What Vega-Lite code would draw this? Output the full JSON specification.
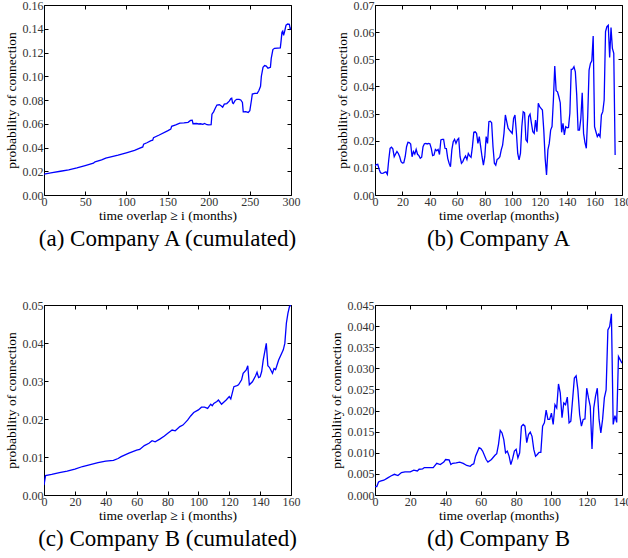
{
  "$schema": "https://vega.github.io/schema/vega-lite/v6.json",
  "background": "white",
  "padding": {"left": 3, "top": -2, "right": 0, "bottom": 0},
  "config": {
    "font": "Liberation Serif",
    "view": {"stroke": "black", "strokeWidth": 1},
    "axis": {
      "domain": false,
      "grid": false,
      "tickColor": "black",
      "tickSize": -4,
      "labelPadding": 5,
      "labelFont": "Liberation Serif",
      "labelFontSize": 12,
      "labelColor": "#333333",
      "titleFont": "Liberation Serif",
      "titleFontSize": 13.5,
      "titleFontWeight": "normal",
      "titleColor": "black",
      "labelFlush": false,
      "labelOverlap": false
    },
    "axisX": {"titlePadding": 1},
    "axisY": {"titlePadding": 4},
    "title": {"font": "Liberation Serif", "fontSize": 23, "fontWeight": "normal", "color": "black", "orient": "bottom", "offset": 6}
  },
  "datasets": {
    "a": [
      {"x":0,"y":0.0175},{"x":10,"y":0.0188},{"x":20,"y":0.0200},{"x":30,"y":0.0212},{"x":40,"y":0.0228},{"x":50,"y":0.0248},{"x":60,"y":0.0268},{"x":62,"y":0.0280},{"x":70,"y":0.0295},{"x":75,"y":0.0310},{"x":80,"y":0.0318},{"x":90,"y":0.0335},{"x":100,"y":0.0355},{"x":110,"y":0.0375},{"x":115,"y":0.0390},{"x":120,"y":0.0405},{"x":121,"y":0.0428},{"x":125,"y":0.0440},{"x":130,"y":0.0458},{"x":132,"y":0.0462},{"x":133,"y":0.0482},{"x":140,"y":0.0505},{"x":150,"y":0.0540},{"x":154,"y":0.0555},{"x":155,"y":0.0578},{"x":160,"y":0.0590},{"x":165,"y":0.0605},{"x":170,"y":0.0608},{"x":175,"y":0.0612},{"x":178,"y":0.0628},{"x":180,"y":0.0630},{"x":181,"y":0.0600},{"x":185,"y":0.0602},{"x":188,"y":0.0598},{"x":190,"y":0.0600},{"x":193,"y":0.0595},{"x":195,"y":0.0603},{"x":198,"y":0.0592},{"x":200,"y":0.0590},{"x":203,"y":0.0592},{"x":204,"y":0.0680},{"x":206,"y":0.0700},{"x":208,"y":0.0730},{"x":210,"y":0.0758},{"x":213,"y":0.0760},{"x":215,"y":0.0752},{"x":217,"y":0.0740},{"x":219,"y":0.0765},{"x":222,"y":0.0770},{"x":225,"y":0.0790},{"x":227,"y":0.0812},{"x":228,"y":0.0815},{"x":229,"y":0.0775},{"x":230,"y":0.0770},{"x":232,"y":0.0795},{"x":234,"y":0.0806},{"x":237,"y":0.0805},{"x":239,"y":0.0800},{"x":241,"y":0.0780},{"x":242,"y":0.0700},{"x":245,"y":0.0702},{"x":248,"y":0.0695},{"x":250,"y":0.0710},{"x":252,"y":0.0800},{"x":253,"y":0.0850},{"x":256,"y":0.0855},{"x":259,"y":0.0856},{"x":261,"y":0.0880},{"x":263,"y":0.0915},{"x":264,"y":0.1000},{"x":266,"y":0.1075},{"x":268,"y":0.1090},{"x":270,"y":0.1085},{"x":272,"y":0.1068},{"x":275,"y":0.1075},{"x":276,"y":0.1150},{"x":278,"y":0.1225},{"x":280,"y":0.1235},{"x":287,"y":0.1238},{"x":288,"y":0.1300},{"x":289,"y":0.1370},{"x":290,"y":0.1380},{"x":291,"y":0.1345},{"x":292,"y":0.1370},{"x":293,"y":0.1400},{"x":294,"y":0.1430},{"x":296,"y":0.1440},{"x":298,"y":0.1438},{"x":299,"y":0.1400},{"x":300,"y":0.1410}
    ],
    "b": [
      {"x":0,"y":0.0108},{"x":1,"y":0.0112},{"x":2,"y":0.0113},{"x":3,"y":0.0095},{"x":4,"y":0.0082},{"x":5,"y":0.0080},{"x":6,"y":0.0081},{"x":7,"y":0.0083},{"x":8,"y":0.0085},{"x":9,"y":0.0076},{"x":10,"y":0.0129},{"x":11,"y":0.0172},{"x":12,"y":0.0176},{"x":13,"y":0.0170},{"x":14,"y":0.0141},{"x":15,"y":0.0151},{"x":16,"y":0.0160},{"x":17,"y":0.0153},{"x":18,"y":0.0141},{"x":19,"y":0.0123},{"x":20,"y":0.0118},{"x":21,"y":0.0119},{"x":22,"y":0.0141},{"x":23,"y":0.0178},{"x":24,"y":0.0194},{"x":25,"y":0.0193},{"x":26,"y":0.0188},{"x":27,"y":0.0141},{"x":28,"y":0.0160},{"x":29,"y":0.0151},{"x":30,"y":0.0168},{"x":31,"y":0.0150},{"x":32,"y":0.0145},{"x":33,"y":0.0135},{"x":34,"y":0.0139},{"x":35,"y":0.0178},{"x":36,"y":0.0189},{"x":37,"y":0.0190},{"x":38,"y":0.0188},{"x":39,"y":0.0190},{"x":40,"y":0.0189},{"x":41,"y":0.0172},{"x":42,"y":0.0145},{"x":43,"y":0.0147},{"x":44,"y":0.0168},{"x":45,"y":0.0163},{"x":46,"y":0.0168},{"x":47,"y":0.0149},{"x":48,"y":0.0203},{"x":49,"y":0.0205},{"x":50,"y":0.0205},{"x":51,"y":0.0172},{"x":52,"y":0.0171},{"x":53,"y":0.0135},{"x":54,"y":0.0117},{"x":55,"y":0.0104},{"x":56,"y":0.0166},{"x":57,"y":0.0196},{"x":58,"y":0.0205},{"x":59,"y":0.0190},{"x":60,"y":0.0203},{"x":61,"y":0.0209},{"x":62,"y":0.0141},{"x":63,"y":0.0117},{"x":64,"y":0.0123},{"x":65,"y":0.0135},{"x":66,"y":0.0144},{"x":67,"y":0.0131},{"x":68,"y":0.0153},{"x":69,"y":0.0144},{"x":70,"y":0.0139},{"x":71,"y":0.0178},{"x":72,"y":0.0231},{"x":73,"y":0.0233},{"x":74,"y":0.0227},{"x":75,"y":0.0190},{"x":76,"y":0.0215},{"x":77,"y":0.0178},{"x":78,"y":0.0141},{"x":79,"y":0.0110},{"x":80,"y":0.0141},{"x":81,"y":0.0215},{"x":82,"y":0.0190},{"x":83,"y":0.0270},{"x":84,"y":0.0272},{"x":85,"y":0.0266},{"x":86,"y":0.0178},{"x":87,"y":0.0117},{"x":88,"y":0.0110},{"x":89,"y":0.0131},{"x":90,"y":0.0134},{"x":91,"y":0.0141},{"x":92,"y":0.0166},{"x":93,"y":0.0184},{"x":94,"y":0.0227},{"x":95,"y":0.0295},{"x":96,"y":0.0270},{"x":97,"y":0.0246},{"x":98,"y":0.0239},{"x":99,"y":0.0233},{"x":100,"y":0.0227},{"x":101,"y":0.0282},{"x":102,"y":0.0295},{"x":103,"y":0.0233},{"x":104,"y":0.0153},{"x":105,"y":0.0129},{"x":106,"y":0.0153},{"x":107,"y":0.0252},{"x":108,"y":0.0307},{"x":109,"y":0.0303},{"x":110,"y":0.0203},{"x":111,"y":0.0196},{"x":112,"y":0.0289},{"x":113,"y":0.0298},{"x":114,"y":0.0264},{"x":115,"y":0.0233},{"x":116,"y":0.0227},{"x":117,"y":0.0276},{"x":118,"y":0.0233},{"x":119,"y":0.0338},{"x":120,"y":0.0325},{"x":121,"y":0.0319},{"x":122,"y":0.0313},{"x":123,"y":0.0239},{"x":124,"y":0.0135},{"x":125,"y":0.0074},{"x":126,"y":0.0166},{"x":127,"y":0.0190},{"x":128,"y":0.0239},{"x":129,"y":0.0252},{"x":130,"y":0.0350},{"x":131,"y":0.0475},{"x":132,"y":0.0384},{"x":133,"y":0.0380},{"x":134,"y":0.0362},{"x":135,"y":0.0340},{"x":136,"y":0.0231},{"x":137,"y":0.0264},{"x":138,"y":0.0221},{"x":139,"y":0.0252},{"x":140,"y":0.0248},{"x":141,"y":0.0249},{"x":142,"y":0.0301},{"x":143,"y":0.0463},{"x":144,"y":0.0464},{"x":145,"y":0.0473},{"x":146,"y":0.0454},{"x":147,"y":0.0368},{"x":148,"y":0.0239},{"x":149,"y":0.0239},{"x":150,"y":0.0282},{"x":151,"y":0.0377},{"x":152,"y":0.0227},{"x":153,"y":0.0193},{"x":154,"y":0.0172},{"x":155,"y":0.0289},{"x":156,"y":0.0460},{"x":157,"y":0.0485},{"x":158,"y":0.0494},{"x":159,"y":0.0586},{"x":160,"y":0.0252},{"x":161,"y":0.0233},{"x":162,"y":0.0215},{"x":163,"y":0.0224},{"x":164,"y":0.0215},{"x":165,"y":0.0295},{"x":166,"y":0.0307},{"x":167,"y":0.0350},{"x":168,"y":0.0602},{"x":169,"y":0.0620},{"x":170,"y":0.0625},{"x":171,"y":0.0507},{"x":172,"y":0.0617},{"x":173,"y":0.0540},{"x":174,"y":0.0522},{"x":175,"y":0.0147}
    ],
    "c": [
      {"x":0,"y":0.0026},{"x":1,"y":0.0051},{"x":5,"y":0.0054},{"x":10,"y":0.0059},{"x":15,"y":0.0063},{"x":20,"y":0.0068},{"x":25,"y":0.0075},{"x":30,"y":0.0080},{"x":35,"y":0.0085},{"x":40,"y":0.0089},{"x":45,"y":0.0091},{"x":48,"y":0.0096},{"x":50,"y":0.0101},{"x":55,"y":0.0110},{"x":60,"y":0.0118},{"x":62,"y":0.0120},{"x":65,"y":0.0130},{"x":68,"y":0.0136},{"x":70,"y":0.0143},{"x":72,"y":0.0140},{"x":75,"y":0.0147},{"x":78,"y":0.0155},{"x":80,"y":0.0162},{"x":83,"y":0.0171},{"x":85,"y":0.0169},{"x":88,"y":0.0180},{"x":90,"y":0.0184},{"x":93,"y":0.0197},{"x":95,"y":0.0208},{"x":97,"y":0.0217},{"x":100,"y":0.0224},{"x":102,"y":0.0231},{"x":104,"y":0.0231},{"x":106,"y":0.0228},{"x":108,"y":0.0239},{"x":109,"y":0.0235},{"x":110,"y":0.0241},{"x":112,"y":0.0246},{"x":113,"y":0.0250},{"x":115,"y":0.0239},{"x":118,"y":0.0250},{"x":120,"y":0.0259},{"x":121,"y":0.0253},{"x":123,"y":0.0285},{"x":125,"y":0.0288},{"x":126,"y":0.0290},{"x":128,"y":0.0303},{"x":129,"y":0.0320},{"x":131,"y":0.0329},{"x":132,"y":0.0340},{"x":133,"y":0.0290},{"x":135,"y":0.0298},{"x":137,"y":0.0313},{"x":138,"y":0.0323},{"x":139,"y":0.0309},{"x":140,"y":0.0311},{"x":141,"y":0.0325},{"x":142,"y":0.0355},{"x":144,"y":0.0399},{"x":145,"y":0.0340},{"x":146,"y":0.0336},{"x":148,"y":0.0320},{"x":149,"y":0.0333},{"x":150,"y":0.0330},{"x":152,"y":0.0355},{"x":155,"y":0.0382},{"x":156,"y":0.0399},{"x":157,"y":0.0452},{"x":158,"y":0.0478},{"x":159,"y":0.0496},{"x":160,"y":0.0500}
    ],
    "d": [
      {"x":0,"y":0.0020},{"x":1,"y":0.0020},{"x":2,"y":0.0031},{"x":3,"y":0.0033},{"x":5,"y":0.0035},{"x":7,"y":0.0040},{"x":9,"y":0.0045},{"x":11,"y":0.0049},{"x":13,"y":0.0046},{"x":15,"y":0.0053},{"x":17,"y":0.0055},{"x":20,"y":0.0055},{"x":22,"y":0.0059},{"x":24,"y":0.0057},{"x":25,"y":0.0061},{"x":27,"y":0.0062},{"x":28,"y":0.0065},{"x":30,"y":0.0065},{"x":33,"y":0.0065},{"x":35,"y":0.0075},{"x":37,"y":0.0072},{"x":39,"y":0.0078},{"x":40,"y":0.0084},{"x":42,"y":0.0083},{"x":43,"y":0.0072},{"x":44,"y":0.0075},{"x":46,"y":0.0076},{"x":48,"y":0.0078},{"x":50,"y":0.0075},{"x":52,"y":0.0070},{"x":54,"y":0.0068},{"x":55,"y":0.0072},{"x":56,"y":0.0074},{"x":57,"y":0.0092},{"x":59,"y":0.0112},{"x":60,"y":0.0110},{"x":61,"y":0.0104},{"x":63,"y":0.0084},{"x":64,"y":0.0078},{"x":66,"y":0.0084},{"x":68,"y":0.0094},{"x":69,"y":0.0098},{"x":70,"y":0.0120},{"x":71,"y":0.0153},{"x":72,"y":0.0147},{"x":73,"y":0.0131},{"x":74,"y":0.0100},{"x":75,"y":0.0104},{"x":76,"y":0.0092},{"x":77,"y":0.0072},{"x":78,"y":0.0086},{"x":79,"y":0.0104},{"x":80,"y":0.0108},{"x":81,"y":0.0088},{"x":82,"y":0.0100},{"x":83,"y":0.0163},{"x":84,"y":0.0167},{"x":85,"y":0.0163},{"x":86,"y":0.0124},{"x":87,"y":0.0143},{"x":88,"y":0.0149},{"x":89,"y":0.0139},{"x":90,"y":0.0108},{"x":91,"y":0.0092},{"x":92,"y":0.0096},{"x":93,"y":0.0101},{"x":94,"y":0.0101},{"x":95,"y":0.0163},{"x":96,"y":0.0171},{"x":97,"y":0.0201},{"x":98,"y":0.0179},{"x":99,"y":0.0179},{"x":100,"y":0.0194},{"x":101,"y":0.0167},{"x":102,"y":0.0214},{"x":103,"y":0.0206},{"x":104,"y":0.0263},{"x":105,"y":0.0242},{"x":106,"y":0.0183},{"x":107,"y":0.0218},{"x":108,"y":0.0214},{"x":109,"y":0.0232},{"x":110,"y":0.0171},{"x":111,"y":0.0175},{"x":112,"y":0.0226},{"x":113,"y":0.0277},{"x":114,"y":0.0282},{"x":115,"y":0.0249},{"x":116,"y":0.0190},{"x":117,"y":0.0163},{"x":118,"y":0.0179},{"x":119,"y":0.0180},{"x":120,"y":0.0253},{"x":121,"y":0.0230},{"x":122,"y":0.0210},{"x":123,"y":0.0109},{"x":124,"y":0.0206},{"x":125,"y":0.0234},{"x":126,"y":0.0253},{"x":127,"y":0.0179},{"x":128,"y":0.0147},{"x":129,"y":0.0179},{"x":130,"y":0.0230},{"x":131,"y":0.0249},{"x":132,"y":0.0391},{"x":133,"y":0.0399},{"x":134,"y":0.0429},{"x":135,"y":0.0167},{"x":136,"y":0.0188},{"x":137,"y":0.0172},{"x":138,"y":0.0328},{"x":139,"y":0.0320},{"x":140,"y":0.0312}
    ]
  },
  "columns": 2,
  "spacing": {"row": 110, "column": 84},
  "bounds": "flush",
  "concat": [
    {
      "width": 247, "height": 190,
      "data": {"name": "a"},
      "title": {"text": "(a) Company A (cumulated)"},
      "resolve": {"axis": {"x": "independent", "y": "independent"}},
      "layer": [
        {
          "mark": {"type": "line", "color": "#0000ff", "strokeWidth": 1.3, "clip": true},
          "encoding": {
            "x": {"field": "x", "type": "quantitative", "scale": {"domain": [0, 300], "nice": false, "zero": false}, "axis": {"orient": "bottom", "title": "time overlap ≥ i (months)", "values": [0, 50, 100, 150, 200, 250, 300]}},
            "y": {"field": "y", "type": "quantitative", "scale": {"domain": [0, 0.16], "nice": false}, "axis": {"orient": "left", "title": "probability of connection", "format": ".2f", "values": [0, 0.02, 0.04, 0.06, 0.08, 0.1, 0.12, 0.14, 0.16]}}
          }
        },
        {
          "mark": {"type": "line", "strokeOpacity": 0},
          "encoding": {
            "x": {"field": "x", "type": "quantitative", "axis": {"orient": "top", "labels": false, "title": null, "values": [0, 50, 100, 150, 200, 250, 300]}},
            "y": {"field": "y", "type": "quantitative", "axis": {"orient": "right", "labels": false, "title": null, "values": [0, 0.02, 0.04, 0.06, 0.08, 0.1, 0.12, 0.14, 0.16]}}
          }
        }
      ]
    },
    {
      "width": 247, "height": 190,
      "data": {"name": "b"},
      "title": {"text": "(b) Company A"},
      "resolve": {"axis": {"x": "independent", "y": "independent"}},
      "layer": [
        {
          "mark": {"type": "line", "color": "#0000ff", "strokeWidth": 1.3, "clip": true},
          "encoding": {
            "x": {"field": "x", "type": "quantitative", "scale": {"domain": [0, 180], "nice": false, "zero": false}, "axis": {"orient": "bottom", "title": "time overlap (months)", "values": [0, 20, 40, 60, 80, 100, 120, 140, 160, 180]}},
            "y": {"field": "y", "type": "quantitative", "scale": {"domain": [0, 0.07], "nice": false}, "axis": {"orient": "left", "title": "probability of connection", "format": ".2f", "values": [0, 0.01, 0.02, 0.03, 0.04, 0.05, 0.06, 0.07]}}
          }
        },
        {
          "mark": {"type": "line", "strokeOpacity": 0},
          "encoding": {
            "x": {"field": "x", "type": "quantitative", "axis": {"orient": "top", "labels": false, "title": null, "values": [0, 20, 40, 60, 80, 100, 120, 140, 160, 180]}},
            "y": {"field": "y", "type": "quantitative", "axis": {"orient": "right", "labels": false, "title": null, "values": [0, 0.01, 0.02, 0.03, 0.04, 0.05, 0.06, 0.07]}}
          }
        }
      ]
    },
    {
      "width": 247, "height": 190,
      "data": {"name": "c"},
      "title": {"text": "(c) Company B (cumulated)"},
      "resolve": {"axis": {"x": "independent", "y": "independent"}},
      "layer": [
        {
          "mark": {"type": "line", "color": "#0000ff", "strokeWidth": 1.3, "clip": true},
          "encoding": {
            "x": {"field": "x", "type": "quantitative", "scale": {"domain": [0, 160], "nice": false, "zero": false}, "axis": {"orient": "bottom", "title": "time overlap ≥ i (months)", "values": [0, 20, 40, 60, 80, 100, 120, 140, 160]}},
            "y": {"field": "y", "type": "quantitative", "scale": {"domain": [0, 0.05], "nice": false}, "axis": {"orient": "left", "title": "probability of connection", "format": ".2f", "values": [0, 0.01, 0.02, 0.03, 0.04, 0.05]}}
          }
        },
        {
          "mark": {"type": "line", "strokeOpacity": 0},
          "encoding": {
            "x": {"field": "x", "type": "quantitative", "axis": {"orient": "top", "labels": false, "title": null, "values": [0, 20, 40, 60, 80, 100, 120, 140, 160]}},
            "y": {"field": "y", "type": "quantitative", "axis": {"orient": "right", "labels": false, "title": null, "values": [0, 0.01, 0.02, 0.03, 0.04, 0.05]}}
          }
        }
      ]
    },
    {
      "width": 247, "height": 190,
      "data": {"name": "d"},
      "title": {"text": "(d) Company B"},
      "resolve": {"axis": {"x": "independent", "y": "independent"}},
      "layer": [
        {
          "mark": {"type": "line", "color": "#0000ff", "strokeWidth": 1.3, "clip": true},
          "encoding": {
            "x": {"field": "x", "type": "quantitative", "scale": {"domain": [0, 140], "nice": false, "zero": false}, "axis": {"orient": "bottom", "title": "time overlap (months)", "values": [0, 20, 40, 60, 80, 100, 120, 140]}},
            "y": {"field": "y", "type": "quantitative", "scale": {"domain": [0, 0.045], "nice": false}, "axis": {"orient": "left", "title": "probability of connection", "format": ".3f", "values": [0, 0.005, 0.01, 0.015, 0.02, 0.025, 0.03, 0.035, 0.04, 0.045]}}
          }
        },
        {
          "mark": {"type": "line", "strokeOpacity": 0},
          "encoding": {
            "x": {"field": "x", "type": "quantitative", "axis": {"orient": "top", "labels": false, "title": null, "values": [0, 20, 40, 60, 80, 100, 120, 140]}},
            "y": {"field": "y", "type": "quantitative", "axis": {"orient": "right", "labels": false, "title": null, "values": [0, 0.005, 0.01, 0.015, 0.02, 0.025, 0.03, 0.035, 0.04, 0.045]}}
          }
        }
      ]
    }
  ]
}
